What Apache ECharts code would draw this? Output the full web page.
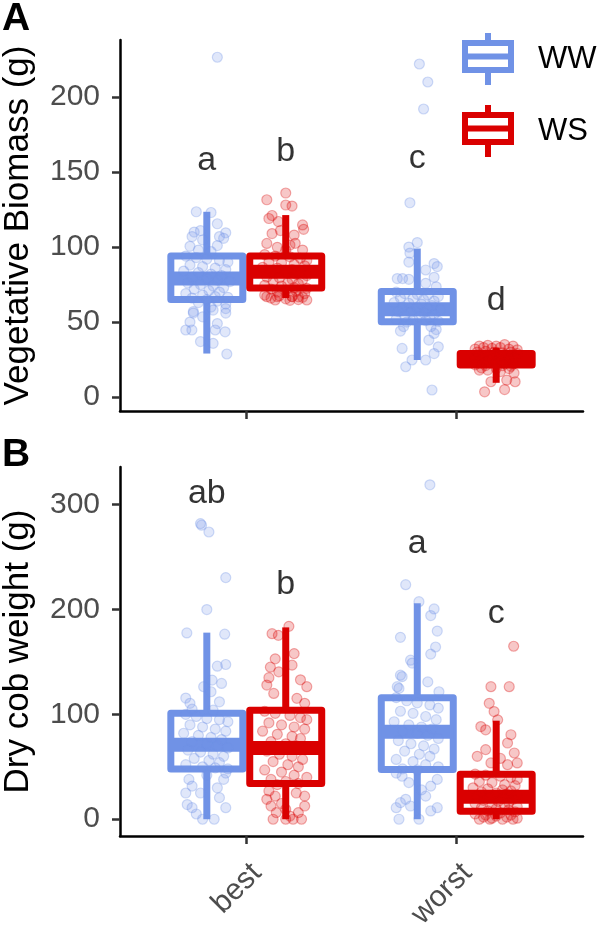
<!DOCTYPE html>
<html>
<head>
<meta charset="utf-8">
<script src="https://cdn.jsdelivr.net/npm/echarts@6/dist/echarts.min.js"></script>
<style>
html,body{margin:0;padding:0;background:#fff;}
#chart{width:603px;height:926px;}
</style>
</head>
<body>
<div id="chart"></div>
<script>
// ---------------- data ----------------
const categories = ['best', 'worst'];
const treatments = ['WW', 'WS'];
const yTicksA = [0, 50, 100, 150, 200];
const yTicksB = [0, 100, 200, 300];

// box statistics per category: [lower whisker, Q1, median, Q3, upper whisker]
const boxA_WW = [[29, 65, 79, 94, 123.5], [24.7, 50.2, 58.5, 70.3, 99]];
const boxA_WS = [[66, 72.7, 83.5, 94, 121.3], [9.5, 21.3, 25, 29, 33]];
const boxB_WW = [[0, 48, 71, 101, 178], [0, 47.5, 83.5, 115.8, 206]];
const boxB_WS = [[0, 34, 68, 104, 183], [0, 7.5, 21.5, 43, 94]];

// significance letters per category and the value where they sit
const lettersA_WW = ['a', 'c'];
const lettersA_WS = ['b', 'd'];
const lettersB_WW = ['ab', 'a'];
const lettersB_WS = ['b', 'c'];
const letterYA_WW = [151.3, 152.7];
const letterYA_WS = [157.5, 58];
const letterYB_WW = [301.7, 254.3];
const letterYB_WS = [215.2, 188];

// individual observations: [jitter, value]
const ptsA_best_WW = [[0.05,226.5],[-0.05,123.5],[0.02,123],[0.05,115.5],[0.09,109.5],[-0.06,110],[-0.07,107],[-0.03,111],[0.06,107],[0.05,101],[-0.08,100.5],[-0.04,98],[0.02,97],[0.08,105.8],[-0.02,104.7],
[-0.1,94],[-0.05,93],[0.0,92],[0.06,91],[0.1,90],[-0.08,88],[-0.02,87],[0.04,86],[0.09,85],[-0.11,84],[-0.04,83],[0.02,82],[0.07,81],[-0.07,80],[0.0,79],[0.05,78],[0.11,77],[-0.09,76],[-0.03,75],[0.03,74],[0.08,73],[-0.06,72],[0.01,71],[0.06,70],[-0.1,69],[-0.02,68],[0.04,67],[0.1,66.5],[-0.07,66],[0.0,65],[0.05,64],[-0.04,63],[0.09,62],
[0.02,60],[0.09,59],[0.09,56],[-0.064,56],[-0.02,53.5],[0.05,49],[-0.08,50],[-0.071,44.7],[-0.1,44.7],[0.087,43.5],[0.04,44.7],[-0.03,37],[0.03,35.8],[0.095,28.7],[0.03,58],[-0.064,57]];
const ptsA_best_WS = [[0.0,136],[-0.09,131.5],[0.0,128],[0.03,127.3],[-0.065,121],[-0.08,119],[-0.035,117],[0.08,114.7],[0.085,111.8],[-0.065,109],[-0.025,111],[0.04,108],[0.045,102.5],[-0.09,102.4],[0.02,101.3],[0.08,98],[-0.04,99.8],[0.0,98],
[-0.1,95],[-0.05,94],[0.02,93.5],[0.07,92.5],[0.1,91],[-0.08,90],[-0.02,89.5],[0.04,88.5],[0.09,87.5],[-0.11,86.5],[-0.04,86],[0.03,85],[0.07,84],[-0.07,83.5],[0.0,83],[0.05,82],[0.1,81],[-0.09,80],[-0.03,79.5],[0.03,78.5],[0.08,78],[-0.06,77],[0.01,76],[0.06,75.5],[-0.1,74.5],[-0.02,74],[0.04,73],[0.1,72.5],[-0.07,72],[0.0,71],[0.05,70.5],[-0.04,70],[0.09,69],[-0.1,68],[-0.03,67.5],[0.03,67],[0.08,66.5],[-0.07,66],[0.0,65.5],[0.06,65],[-0.05,64.7],[0.02,64.5],[0.1,64.7],[-0.09,66.9],[-0.04,66.9],[0.03,67],[0.06,66.8]];
const ptsA_worst_WW = [[0.01,222],[0.05,210],[0.03,192],[-0.035,129.5],[0.0,103],[-0.04,100],[-0.035,96],[-0.04,90],[0.08,89],[0.095,87],[0.04,84.7],[-0.095,79],[-0.07,79],[-0.04,78.5],[0.08,79.8],[0.09,73.5],[0.04,75.8],
[-0.1,70],[-0.06,69],[0.0,68.5],[0.05,68],[0.1,67],[-0.08,66],[-0.02,65.5],[0.03,65],[0.08,64],[-0.11,63],[-0.04,62.5],[0.02,62],[0.07,61],[-0.07,60],[0.0,59.5],[0.05,59],[0.11,58],[-0.09,57],[-0.03,56.5],[0.03,56],[0.08,55],[-0.06,54],[0.01,53.5],[0.06,53],[-0.1,52],[-0.02,51.5],[0.04,51],[0.1,50.5],[-0.05,50],
[-0.065,47],[0.065,47],[0.08,42.4],[0.055,38],[-0.072,32.4],[0.1,33.5],[-0.025,24.7],[0.04,24.7],[0.08,29],[-0.055,20.2],[0.07,4.7],[0.09,45],[-0.08,44]];
const ptsA_worst_WS = [[-0.08,34],[-0.04,34.5],[0.0,34],[0.04,35],[0.08,34],[-0.1,32],[-0.06,33],[-0.02,32.5],[0.02,33],[0.06,32],[0.1,31.5],[-0.09,30],[-0.05,30.5],[-0.01,30],[0.03,29.5],[0.07,30],[0.1,29],[-0.08,28],[-0.03,27.5],[0.01,27],[0.05,27.5],[0.09,26.5],[-0.1,26],[-0.06,25.5],[-0.02,25],[0.02,24.5],[0.06,25],[-0.08,24],[-0.04,23.5],[0.0,23],[0.04,22.5],[0.08,22],[-0.1,21.5],[-0.05,21],[0.03,21],[0.07,20.5],[-0.08,18],[-0.04,18],[0.02,17],[0.085,16],[0.05,11.3],[0.09,10.2],[-0.025,10.2],[-0.055,3.5],[0.04,5],[-0.07,19.5],[0.0,19],[0.06,19]];
const ptsB_best_WW = [[-0.03,282],[-0.025,280.5],[0.01,274],[0.09,230.5],[0.0,200],[-0.095,177.7],[0.085,176.5],[0.05,146],[0.09,147.6],[-0.015,126.4],[0.02,121.6],[0.07,129.5],[-0.1,115.6],[-0.08,110.6],[0.06,112],[0.025,132.7],
[-0.1,100],[-0.05,98],[0.0,96],[0.06,95],[0.1,93],[-0.08,90],[-0.02,88],[0.04,86],[0.09,84],[-0.11,82],[-0.04,80],[0.02,78],[0.07,76],[-0.07,74],[0.0,72],[0.05,70],[0.1,68],[-0.09,66],[-0.03,64],[0.03,62],[0.08,60],[-0.06,58],[0.01,56],[0.06,54],[-0.1,52],[-0.02,50],[0.04,49],[0.1,48],[-0.07,105],[0.03,104],
[-0.085,38],[-0.07,31.6],[0.09,44],[0.08,38],[-0.1,25],[-0.03,25],[0.06,20.6],[-0.093,14],[-0.07,11],[0.09,11],[-0.02,0],[0.035,0],[0.0,42],[-0.05,5],[0.05,30]];
const ptsB_best_WS = [[0.015,184],[-0.065,177],[-0.035,175.4],[-0.05,153],[0.04,158],[-0.073,145],[-0.033,140.6],[0.03,147],[-0.09,128],[-0.057,120],[0.1,126.4],[0.053,115.3],[0.09,110.6],[-0.08,135],[0.07,133],
[-0.1,103],[-0.05,101],[0.02,99],[0.07,97],[0.1,95],[-0.08,92],[-0.02,90],[0.04,88],[0.09,86],[-0.11,84],[-0.04,81],[0.03,79],[0.07,77],[-0.07,74],[0.0,72],[0.05,70],[0.1,67],[-0.09,65],[-0.03,62],[0.03,60],[0.08,57],[-0.06,55],[0.01,52],[0.06,50],[-0.1,47],[-0.02,45],[0.04,42],[0.1,40],[-0.07,38],[0.0,36],[0.06,34],[-0.04,33],
[-0.08,27],[-0.09,19],[-0.05,22],[0.09,22],[-0.07,12.6],[-0.045,6.3],[0.0,9.5],[0.09,12.6],[0.06,6.3],[-0.06,0],[0.0,0],[0.035,0],[0.075,0],[-0.02,15],[0.05,25],[0.02,3]];
const ptsB_worst_WW = [[0.06,319],[-0.055,223.7],[0.008,207.5],[0.08,200.6],[0.064,194.3],[0.095,179.5],[-0.08,173.5],[0.087,164.3],[0.064,157.5],[-0.032,151.7],[-0.024,149],[-0.08,137.4],[-0.072,136],[-0.095,126.4],[0.05,131],[-0.087,124.8],[0.103,121.6],
[-0.1,116],[-0.05,113],[0.0,111],[0.06,109],[0.1,106],[-0.08,103],[-0.02,101],[0.04,98],[0.09,95],[-0.11,93],[-0.04,90],[0.02,88],[0.07,86],[-0.07,84],[0.0,82],[0.05,80],[0.1,77],[-0.09,75],[-0.03,72],[0.03,70],[0.08,67],[-0.06,65],[0.01,62],[0.06,60],[-0.1,57],[-0.02,55],[0.04,52],[0.1,50],[-0.07,48],[0.0,47],
[-0.08,15.8],[-0.055,19],[-0.1,11],[-0.032,12.6],[0.064,7.9],[0.095,11],[0.04,22],[-0.087,0],[0.008,0],[0.064,31.6],[0.095,38],[-0.072,41],[-0.1,44],[0.02,28],[-0.04,35]];
const ptsB_worst_WS = [[0.083,165],[-0.025,126.4],[0.062,126.4],[-0.033,110.6],[-0.01,102.7],[-0.073,88.4],[-0.05,85.3],[0.007,94.8],[0.07,80.6],[0.054,72.7],[0.086,63.2],[-0.05,66.4],[0.1,53.7],[0.054,52],[-0.025,53.7],[-0.09,60],[0.02,58],
[-0.1,43],[-0.05,42],[0.02,41],[0.07,40],[0.1,38],[-0.08,36],[-0.02,35],[0.04,33],[0.09,32],[-0.11,30],[-0.04,29],[0.03,28],[0.07,27],[-0.07,26],[0.0,25],[0.05,24],[0.1,23],[-0.09,22],[-0.03,21],[0.03,20],[0.08,19],[-0.06,18],[0.01,17],[0.06,16],[-0.1,15],[-0.02,14],[0.04,13],[0.1,12],[-0.07,11],[0.0,10],[0.06,9],[-0.04,8],[0.09,7],
[-0.1,5],[-0.05,4],[0.0,3],[0.05,2],[0.1,1],[-0.08,0],[-0.03,0],[0.03,0],[0.08,0],[-0.06,2],[0.07,4],[-0.02,1],[0.02,6]];

// ---------------- styling ----------------
const BLUE = '#7092E6';
const RED = '#DA0000';
const BLUE_PT = 'rgba(112,146,230,0.22)';
const BLUE_PT_B = 'rgba(112,146,230,0.32)';
const RED_PT = 'rgba(218,0,0,0.22)';
const RED_PT_B = 'rgba(218,0,0,0.32)';
const FONT = 'Liberation Sans, Arial, Helvetica, sans-serif';
const DODGE = { WW: -0.1875, WS: 0.1875 };
const BOX_W = 0.342;
const LINE_W = 7;

const chart = echarts.init(document.getElementById('chart'), null, { renderer: 'canvas' });

function boxData(stats, trt) {
  return stats.map((s, i) => [i + 1 + DODGE[trt]].concat(s));
}
function ptData(arrs, trt) {
  const out = [];
  arrs.forEach((arr, i) => arr.forEach(p => out.push([i + 1 + DODGE[trt] + p[0], p[1]])));
  return out;
}
function letterData(letters, ys, trt) {
  return letters.map((t, i) => ({ name: t, value: [i + 1 + DODGE[trt], ys[i]] }));
}

function renderBox(params, api) {
  const x = api.value(0);
  const lo = api.coord([x, api.value(1)]);
  const q1 = api.coord([x, api.value(2)]);
  const md = api.coord([x, api.value(3)]);
  const q3 = api.coord([x, api.value(4)]);
  const hi = api.coord([x, api.value(5)]);
  const half = api.size([BOX_W, 0])[0] / 2;
  const color = api.visual('color');
  return {
    type: 'group',
    children: [
      { type: 'line', shape: { x1: lo[0], y1: lo[1], x2: q1[0], y2: q1[1] }, style: { stroke: color, lineWidth: LINE_W } },
      { type: 'line', shape: { x1: q3[0], y1: q3[1], x2: hi[0], y2: hi[1] }, style: { stroke: color, lineWidth: LINE_W } },
      { type: 'rect', shape: { x: q3[0] - half, y: q3[1], width: 2 * half, height: q1[1] - q3[1] },
        style: { fill: 'none', stroke: color, lineWidth: LINE_W, lineJoin: 'round' } },
      { type: 'line', shape: { x1: md[0] - half, y1: md[1], x2: md[0] + half, y2: md[1] }, style: { stroke: color, lineWidth: 2 * LINE_W } }
    ]
  };
}

function boxSeries(name, stats, idx, color) {
  return {
    name: name, type: 'custom', xAxisIndex: idx, yAxisIndex: idx,
    renderItem: renderBox, itemStyle: { color: color },
    encode: { x: 0, y: [1, 2, 3, 4, 5] },
    data: boxData(stats, name), z: 2, silent: true
  };
}
function pointSeries(name, arrs, idx, fill, border) {
  return {
    name: name + ' obs', type: 'scatter', xAxisIndex: idx, yAxisIndex: idx,
    symbol: 'circle', symbolSize: 10,
    itemStyle: { color: fill, borderColor: border, borderWidth: 1.2, opacity: 1 },
    data: ptData(arrs, name), z: 3, silent: true
  };
}
function letterSeries(name, letters, ys, idx) {
  return {
    name: name + ' letters', type: 'scatter', xAxisIndex: idx, yAxisIndex: idx,
    symbolSize: 0,
    label: { show: true, position: 'top', distance: 0, offset: [0, 8], formatter: p => p.name,
      fontSize: 34, color: '#000', fontFamily: FONT },
    data: letterData(letters, ys, name), z: 4, silent: true
  };
}

function xAxisCfg(idx, showLabels) {
  return {
    type: 'value', gridIndex: idx, min: 0.4, max: 2.6,
    splitLine: { show: false },
    axisLine: { show: true, onZero: false, lineStyle: { color: '#000', width: 2.5 } },
    axisTick: { show: true, customValues: [1, 2], length: 8, lineStyle: { color: '#333', width: 2.5 } },
    axisLabel: { show: showLabels, customValues: [1, 2], formatter: v => categories[Math.round(v) - 1],
      rotate: 45, verticalAlign: 'top', fontSize: 30, color: '#4D4D4D', fontFamily: FONT, margin: 22 }
  };
}
function yAxisCfg(idx, min, max, ticks, name) {
  return {
    type: 'value', gridIndex: idx, min: min, max: max,
    name: name, nameLocation: 'middle', nameGap: 84,
    nameTextStyle: { fontSize: 35, color: '#000', fontFamily: FONT },
    splitLine: { show: false },
    axisLine: { show: true, onZero: false, lineStyle: { color: '#000', width: 2.5 } },
    axisTick: { show: true, customValues: ticks, length: 8, lineStyle: { color: '#333', width: 2.5 } },
    axisLabel: { show: true, customValues: ticks, fontSize: 30, color: '#4D4D4D', fontFamily: FONT, margin: 20 }
  };
}

const ICON = 'path://M0,7h52v6h-52z M0,34h52v6h-52z M0,7h6v33h-6z M46,7h6v33h-6z M0,20.5h52v6h-52z M23,0h6v8h-6z M23,39h6v13h-6z';

const option = {
  backgroundColor: '#fff',
  animation: false,
  textStyle: { fontFamily: FONT },
  title: [
    { text: 'A', left: 2, top: 0, padding: 0, textStyle: { fontSize: 39, fontWeight: 'bold', color: '#000', fontFamily: FONT } },
    { text: 'B', left: 2, top: 436, padding: 0, textStyle: { fontSize: 39, fontWeight: 'bold', color: '#000', fontFamily: FONT } }
  ],
  legend: {
    orient: 'vertical', left: 462, top: 33, padding: 0,
    itemWidth: 52, itemHeight: 52, itemGap: 20, selectedMode: false,
    textStyle: { fontSize: 31, color: '#000', fontFamily: FONT, padding: [0, 0, 0, 19] },
    data: [
      { name: 'WW', icon: ICON, itemStyle: { color: BLUE, borderWidth: 0 } },
      { name: 'WS', icon: ICON, itemStyle: { color: RED, borderWidth: 0 } }
    ]
  },
  grid: [
    { left: 120, top: 40, width: 463, height: 371, containLabel: false, outerBoundsMode: 'none' },
    { left: 120, top: 467, width: 463, height: 369, containLabel: false, outerBoundsMode: 'none' }
  ],
  xAxis: [xAxisCfg(0, false), xAxisCfg(1, true)],
  yAxis: [
    yAxisCfg(0, -9.3, 238, yTicksA, 'Vegetative Biomass (g)'),
    yAxisCfg(1, -16, 336, yTicksB, 'Dry cob weight (g)')
  ],
  series: [
    boxSeries('WW', boxA_WW, 0, BLUE),
    boxSeries('WS', boxA_WS, 0, RED),
    boxSeries('WW', boxB_WW, 1, BLUE),
    boxSeries('WS', boxB_WS, 1, RED),
    pointSeries('WW', [ptsA_best_WW, ptsA_worst_WW], 0, BLUE_PT, BLUE_PT_B),
    pointSeries('WS', [ptsA_best_WS, ptsA_worst_WS], 0, RED_PT, RED_PT_B),
    pointSeries('WW', [ptsB_best_WW, ptsB_worst_WW], 1, BLUE_PT, BLUE_PT_B),
    pointSeries('WS', [ptsB_best_WS, ptsB_worst_WS], 1, RED_PT, RED_PT_B),
    letterSeries('WW', lettersA_WW, letterYA_WW, 0),
    letterSeries('WS', lettersA_WS, letterYA_WS, 0),
    letterSeries('WW', lettersB_WW, letterYB_WW, 1),
    letterSeries('WS', lettersB_WS, letterYB_WS, 1)
  ]
};
chart.setOption(option);
</script>
</body>
</html>
